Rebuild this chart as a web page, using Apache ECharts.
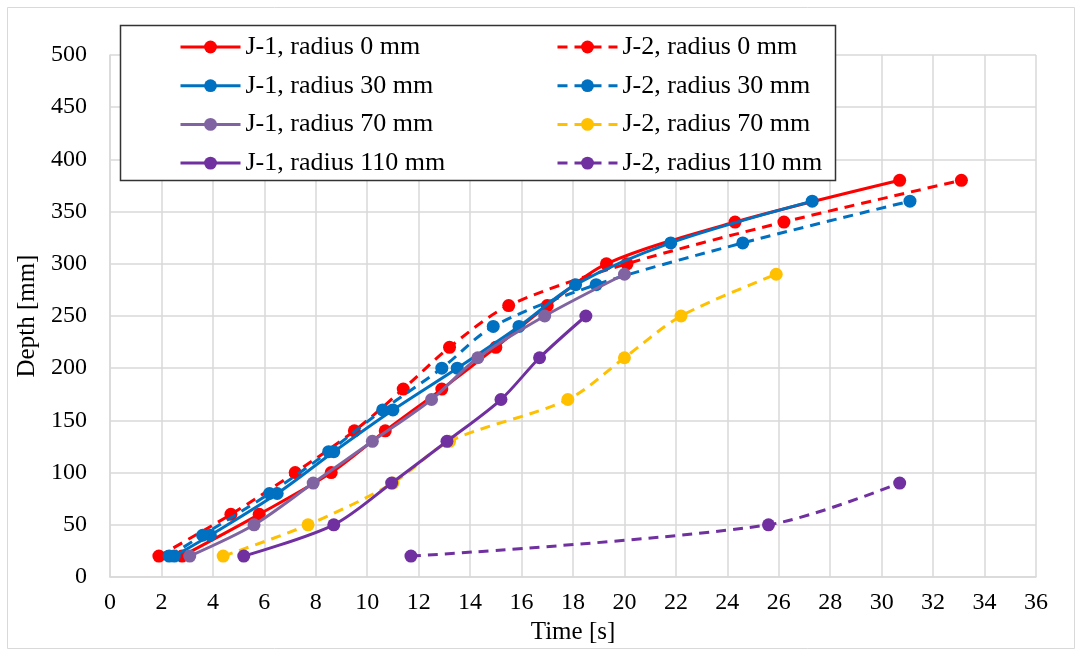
<!DOCTYPE html>
<html>
<head>
<meta charset="utf-8">
<script src="https://cdn.jsdelivr.net/npm/echarts@6/dist/echarts.min.js"></script>
<style>
  html, body { margin: 0; padding: 0; background: #fff; }
  #chart { width: 1081px; height: 655px; }
</style>
</head>
<body>
<div id="chart"></div>
<script>
// ---- data ----
const seriesNames = [
  'J-1, radius 0 mm', 'J-2, radius 0 mm',
  'J-1, radius 30 mm', 'J-2, radius 30 mm',
  'J-1, radius 70 mm', 'J-2, radius 70 mm',
  'J-1, radius 110 mm', 'J-2, radius 110 mm'
];
const j1r0Time  = [2.8, 5.8, 8.6, 10.7, 12.9, 15.0, 17.0, 19.3, 24.3, 30.7];
const j1r0Depth = [20, 60, 100, 140, 180, 220, 260, 300, 340, 380];
const j2r0Time  = [1.9, 4.7, 7.2, 9.5, 11.4, 13.2, 15.5, 20.1, 26.2, 33.1];
const j2r0Depth = [20, 60, 100, 140, 180, 220, 260, 300, 340, 380];
const j1r30Time  = [2.5, 3.9, 6.5, 8.7, 11.0, 13.5, 15.9, 18.1, 21.8, 27.3];
const j1r30Depth = [20, 40, 80, 120, 160, 200, 240, 280, 320, 360];
const j2r30Time  = [2.3, 3.6, 6.2, 8.5, 10.6, 12.9, 14.9, 18.9, 24.6, 31.1];
const j2r30Depth = [20, 40, 80, 120, 160, 200, 240, 280, 320, 360];
const j1r70Time  = [3.1, 5.6, 7.9, 10.2, 12.5, 14.3, 16.9, 20.0];
const j1r70Depth = [20, 50, 90, 130, 170, 210, 250, 290];
const j2r70Time  = [4.4, 7.7, 11.0, 13.2, 17.8, 20.0, 22.2, 25.9];
const j2r70Depth = [20, 50, 90, 130, 170, 210, 250, 290];
const j1r110Time  = [5.2, 8.7, 10.95, 13.1, 15.2, 16.7, 18.5];
const j1r110Depth = [20, 50, 90, 130, 170, 210, 250];
const j2r110Time  = [11.7, 25.6, 30.7];
const j2r110Depth = [20, 50, 90];

const xAxisTitle = 'Time [s]';
const yAxisTitle = 'Depth [mm]';

// ---- styles ----
const colors = ['#FF0000', '#FF0000', '#0070C0', '#0070C0', '#8064A2', '#FFC000', '#7030A0', '#7030A0'];
const dashed = [false, true, false, true, false, true, false, true];
const times = [j1r0Time, j2r0Time, j1r30Time, j2r30Time, j1r70Time, j2r70Time, j1r110Time, j2r110Time];
const depths = [j1r0Depth, j2r0Depth, j1r30Depth, j2r30Depth, j1r70Depth, j2r70Depth, j1r110Depth, j2r110Depth];

const FONT = '"Liberation Serif", "Times New Roman", serif';

const series = seriesNames.map((name, k) => ({
  name: name,
  type: 'line',
  smooth: 0.3,
  symbol: 'circle',
  symbolSize: 13,
  showSymbol: true,
  data: times[k].map((t, i) => [t, depths[k][i]]),
  itemStyle: { color: colors[k] },
  lineStyle: { color: colors[k], width: 3, type: dashed[k] ? [10, 7] : 'solid' },
  emphasis: { disabled: true },
  z: 2 + k
}));

const chart = echarts.init(document.getElementById('chart'), null, { renderer: 'canvas' });

const legendCommon = {
  orient: 'vertical',
  top: 29,
  z: 100,
  itemWidth: 60,
  itemHeight: 16,
  itemGap: 12.7,
  lineStyle: { width: 3 },
  textStyle: { fontFamily: FONT, fontSize: 26, color: '#000', lineHeight: 26 },
  selectedMode: false
};

chart.setOption({
  animation: false,
  backgroundColor: '#fff',
  grid: { left: 110, right: 45, top: 55, bottom: 78, containLabel: false },
  xAxis: {
    type: 'value',
    min: 0, max: 36, interval: 2,
    name: xAxisTitle,
    nameLocation: 'middle',
    nameGap: 42,
    nameTextStyle: { fontFamily: FONT, fontSize: 25, color: '#000' },
    axisLine: { show: true, lineStyle: { color: '#d9d9d9', width: 1.5 } },
    axisTick: { show: false },
    axisLabel: { fontFamily: FONT, fontSize: 24, color: '#000', margin: 14 },
    splitLine: { show: true, lineStyle: { color: '#d9d9d9', width: 1.5 } }
  },
  yAxis: {
    type: 'value',
    min: 0, max: 500, interval: 50,
    name: yAxisTitle,
    nameLocation: 'middle',
    nameGap: 66,
    nameTextStyle: { fontFamily: FONT, fontSize: 25, color: '#000' },
    axisLine: { show: true, lineStyle: { color: '#d9d9d9', width: 1.5 } },
    axisTick: { show: false },
    axisLabel: { fontFamily: FONT, fontSize: 24, color: '#000', margin: 23 },
    splitLine: { show: true, lineStyle: { color: '#d9d9d9', width: 1.5 } }
  },
  legend: [
    Object.assign({}, legendCommon, { left: 174, data: [seriesNames[0], seriesNames[2], seriesNames[4], seriesNames[6]] }),
    Object.assign({}, legendCommon, { left: 551, data: [seriesNames[1], seriesNames[3], seriesNames[5], seriesNames[7]] })
  ],
  graphic: [
    {
      type: 'rect', silent: true, z: -10,
      shape: { x: 7.5, y: 7.5, width: 1067, height: 641 },
      style: { fill: null, stroke: '#d9d9d9', lineWidth: 1 }
    },
    {
      type: 'rect', silent: true, z: 50,
      shape: { x: 120.5, y: 25.5, width: 715, height: 155 },
      style: { fill: '#fff', stroke: '#333', lineWidth: 1.5 }
    }
  ],
  series: series
});
</script>
</body>
</html>
